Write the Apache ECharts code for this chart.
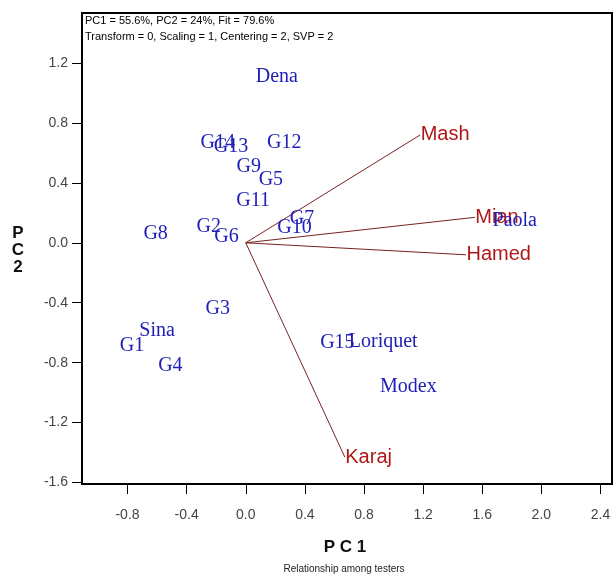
<!DOCTYPE html>
<html>
<head>
<meta charset="utf-8">
<script src="https://cdn.jsdelivr.net/npm/echarts@6/dist/echarts.min.js"></script>
<style>html,body{margin:0;padding:0;background:#fff}#c{width:615px;height:575px}</style>
</head>
<body>
<div id="c"></div>
<script>
// Genotype (entry) labels
const genotypes = ['G1','G2','G3','G4','G5','G6','G7','G8','G9','G10','G11','G12','G13','G14','G15','Dena','Sina','Paola','Loriquet','Modex'];
const genoPC1 = [-0.77,-0.25,-0.19,-0.51,0.17,-0.13,0.38,-0.61,0.02,0.33,0.05,0.26,-0.10,-0.19,0.62,0.21,-0.60,1.82,0.93,1.10];
const genoPC2 = [-0.69,0.11,-0.44,-0.82,0.42,0.04,0.16,0.06,0.51,0.10,0.28,0.67,0.64,0.67,-0.67,1.11,-0.59,0.15,-0.66,-0.96];
// Tester vectors
const testers = ['Mash','Mian','Hamed','Karaj'];
const testerPC1 = [1.18,1.55,1.49,0.67];
const testerPC2 = [0.72,0.17,-0.08,-1.43];
// Tick labels
const xTicks = [-0.8,-0.4,0.0,0.4,0.8,1.2,1.6,2.0,2.4];
const yTicks = [-1.6,-1.2,-0.8,-0.4,0.0,0.4,0.8,1.2];

const chart = echarts.init(document.getElementById('c'), null, {renderer:'canvas'});
const series = [];
testers.forEach((t,i)=>{
  series.push({type:'line', data:[[0,0],[testerPC1[i],testerPC2[i]]], showSymbol:false, symbol:'none',
    lineStyle:{color:'#7a2020', width:1}, silent:true, z:2});
});
series.push({type:'scatter', symbol:'circle', symbolSize:1, itemStyle:{color:'rgba(255,255,255,0)', opacity:1},
  data: testers.map((t,i)=>({name:t, value:[testerPC1[i],testerPC2[i]]})),
  label:{show:true, position:'right', distance:0, formatter:'{b}', color:'#b01818',
    fontFamily:'Liberation Sans, Arial', fontSize:20}, z:3});
series.push({type:'scatter', symbol:'circle', symbolSize:1, itemStyle:{color:'rgba(255,255,255,0)', opacity:1},
  data: genotypes.map((g,i)=>({name:g, value:[genoPC1[i],genoPC2[i]]})),
  label:{show:true, position:'inside', formatter:'{b}', color:'#2020b8',
    fontFamily:'Liberation Serif, Times New Roman', fontSize:20}, z:4});

chart.setOption({
  animation:false,
  backgroundColor:'#fff',
  grid:{left:82, right:3, top:13, bottom:91, show:true, borderColor:'#000', borderWidth:2},
  xAxis:{type:'value', min:-1.108, max:2.478, splitLine:{show:false},
    axisLine:{show:true, onZero:false, lineStyle:{color:'#000', width:2}},
    axisTick:{show:true, inside:false, length:10, lineStyle:{color:'#000'}, customValues:xTicks},
    axisLabel:{customValues:xTicks, formatter:v=>v.toFixed(1), color:'#444', fontSize:14, margin:24,
      fontFamily:'Liberation Sans, Arial'}},
  yAxis:{type:'value', min:-1.61, max:1.534, splitLine:{show:false},
    axisLine:{show:true, onZero:false, lineStyle:{color:'#000', width:2}},
    axisTick:{show:true, inside:false, length:10, lineStyle:{color:'#000'}, customValues:yTicks},
    axisLabel:{customValues:yTicks, formatter:v=>v.toFixed(1), color:'#444', fontSize:14, margin:14,
      fontFamily:'Liberation Sans, Arial'}},
  graphic:[
    {type:'text', left:85, top:15, style:{text:'PC1 = 55.6%, PC2 = 24%, Fit = 79.6%', font:'11px Liberation Sans, Arial', fill:'#000'}},
    {type:'text', left:85, top:31, style:{text:'Transform = 0, Scaling = 1, Centering = 2, SVP = 2', font:'11px Liberation Sans, Arial', fill:'#000'}},
    {type:'text', x:345, y:547, style:{text:'P C 1', font:'bold 17px Liberation Sans, Arial', fill:'#111', textAlign:'center', textVerticalAlign:'middle'}},
    {type:'text', x:18, y:250, style:{text:'P\nC\n2', font:'bold 17px Liberation Sans, Arial', fill:'#111', textAlign:'center', textVerticalAlign:'middle', lineHeight:17}},
    {type:'text', x:344, y:569, style:{text:'Relationship among testers', font:'10px Liberation Sans, Arial', fill:'#222', textAlign:'center', textVerticalAlign:'middle'}}
  ],
  series:series
});
</script>
</body>
</html>
